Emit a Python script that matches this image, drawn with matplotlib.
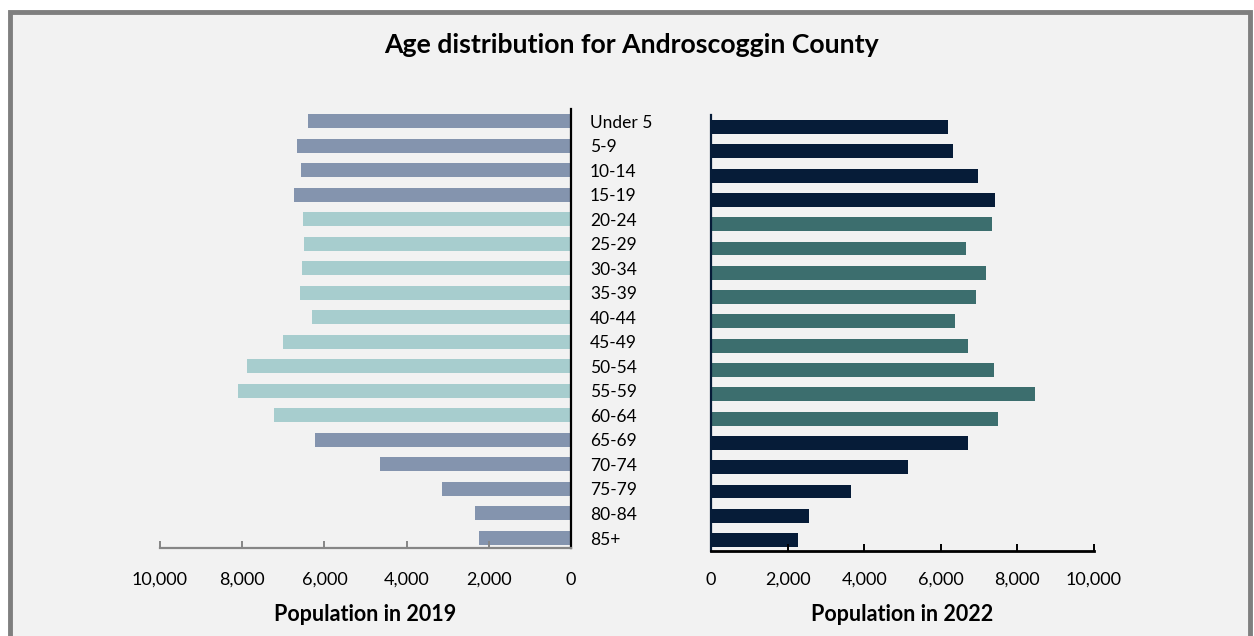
import matplotlib
matplotlib.use("Agg")
import matplotlib.pyplot as plt
from matplotlib.patches import Rectangle
from matplotlib.ticker import FuncFormatter

categories = ["Under 5", "5-9", "10-14", "15-19", "20-24", "25-29", "30-34", "35-39",
              "40-44", "45-49", "50-54", "55-59", "60-64", "65-69", "70-74", "75-79",
              "80-84", "85+"]
pop_2019 = [6400, 6670, 6570, 6740, 6520, 6500, 6545, 6595, 6300, 7005, 7885, 8100,
            7225, 6230, 4650, 3140, 2335, 2240]
pop_2022 = [6190, 6320, 6970, 7415, 7335, 6660, 7180, 6920, 6370, 6710, 7390, 8460,
            7495, 6710, 5145, 3655, 2560, 2270]
working_age = [False] * 4 + [True] * 9 + [False] * 5
ticks = [0, 2000, 4000, 6000, 8000, 10000]

title = "Age distribution for Androscoggin County"
xlabel_2019 = "Population in 2019"
xlabel_2022 = "Population in 2022"

c19_dark, c19_light = "#8494ae", "#a7cdce"
c22_dark, c22_light = "#061c38", "#3c6e6e"

plt.rcParams['font.family'] = ['Lato', 'DejaVu Sans']

W, H = 1254, 636
fig = plt.figure(figsize=(W / 100, H / 100), dpi=100, facecolor="white")

# frame
fig.patches.append(Rectangle((10 / W, -0.05), 1240 / W, 1.05 - 12 / H, transform=fig.transFigure,
                             facecolor="#f2f2f2", edgecolor="#7f7f7f", linewidth=3.5, zorder=-10))

def pix_axes(x0, x1, y0, y1):
    ax = fig.add_axes([x0 / W, 1 - y1 / H, (x1 - x0) / W, (y1 - y0) / H])
    ax.set_zorder(5)
    return ax

fmt = FuncFormatter(lambda v, p: f"{int(v):,}")
n = len(categories)
ypos = list(range(n))

# left axes (2019)
axL = pix_axes(160, 571, 109, 548)
axL.set_facecolor("none")
colsL = [c19_light if w else c19_dark for w in working_age]
axL.barh(ypos, pop_2019, height=0.57, color=colsL)
axL.set_xlim(10000, 0)
axL.set_ylim((548 - 121) / 24.53, (109 - 121) / 24.53)
axL.set_xticks(ticks)
axL.xaxis.set_major_formatter(fmt)
axL.set_yticks([])
for s in ["top", "left"]:
    axL.spines[s].set_visible(False)
axL.spines["right"].set_color("black")
axL.spines["right"].set_linewidth(1.6)
axL.spines["bottom"].set_color("#868686")
axL.spines["bottom"].set_linewidth(1.6)
axL.tick_params(axis="x", direction="in", length=5, width=1.4, color="#868686",
                pad=17, labelsize=13, labelcolor="black")

# category labels
for i, c in enumerate(categories):
    fig.text(590 / W, 1 - (127.5 + 24.53 * i) / H, c,
             ha="left", va="baseline", fontsize=12.5, zorder=6)

# right axes (2022)
axR = pix_axes(711, 1094, 115, 551)
axR.set_facecolor("none")
colsR = [c22_light if w else c22_dark for w in working_age]
axR.barh(ypos, pop_2022, height=0.57, color=colsR)
axR.set_xlim(0, 10000)
axR.set_ylim((551 - 127) / 24.3, (115 - 127) / 24.3)
axR.set_xticks(ticks)
axR.xaxis.set_major_formatter(fmt)
axR.set_yticks([])
for s in ["top", "right"]:
    axR.spines[s].set_visible(False)
axR.spines["left"].set_color(c22_dark)
axR.spines["left"].set_linewidth(1.6)
axR.spines["bottom"].set_color("black")
axR.spines["bottom"].set_linewidth(2)
axR.tick_params(axis="x", direction="in", length=5, width=1.4, color="black",
                pad=15, labelsize=13, labelcolor="black")

# axis titles
fig.text(365.5 / W, 1 - 621 / H, xlabel_2019, ha="center", va="baseline",
         fontsize=15.5, fontweight="bold", zorder=6)
fig.text(902.5 / W, 1 - 621 / H, xlabel_2022, ha="center", va="baseline",
         fontsize=15.5, fontweight="bold", zorder=6)

fig.text(631 / W, 1 - 45 / H, title, ha="center", va="center", fontsize=19.2,
         fontweight="bold", zorder=6)

fig.savefig("out.png", dpi=100, facecolor="white")
